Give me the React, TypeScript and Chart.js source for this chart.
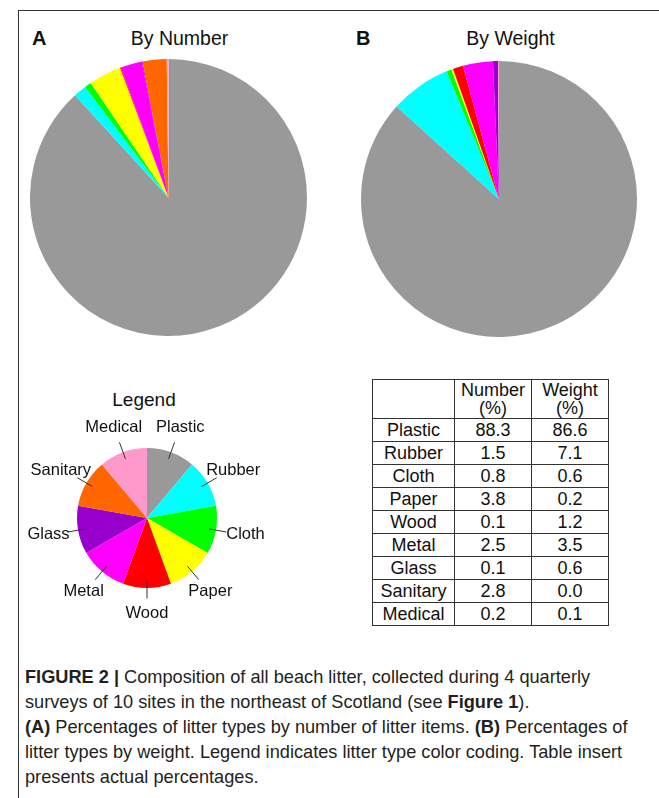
import React, { useEffect, useRef } from "react";
import { Chart, registerables } from "chart.js";

Chart.register(...registerables);

const categories = ["Plastic", "Rubber", "Cloth", "Paper", "Wood", "Metal", "Glass", "Sanitary", "Medical"];
const byNumber = [88.3, 1.5, 0.8, 3.8, 0.1, 2.5, 0.1, 2.8, 0.2];
const byWeight = [86.6, 7.1, 0.6, 0.2, 1.2, 3.5, 0.6, 0.0, 0.1];
const legendShares = [1, 1, 1, 1, 1, 1, 1, 1, 1];
const sliceColors = ["#999999", "#00FFFF", "#00FF00", "#FFFF00", "#FF0000", "#FF00FF", "#9900CC", "#FF6600", "#FF99CC"];

const FONT = "'Liberation Sans', Arial, sans-serif";

const leaderPlugin = {
  id: "leaderLabels",
  afterDatasetsDraw(chart: any) {
    const meta = chart.getDatasetMeta(0);
    const ctx = chart.ctx;
    const labels = chart.data.labels as string[];
    ctx.save();
    meta.data.forEach((arc: any, i: number) => {
      const p = arc.getProps(["x", "y", "startAngle", "endAngle", "outerRadius"], true);
      const mid = (p.startAngle + p.endAngle) / 2;
      const c = Math.cos(mid);
      const s = Math.sin(mid);
      const r = p.outerRadius;
      ctx.strokeStyle = "#333333";
      ctx.lineWidth = 1;
      ctx.beginPath();
      ctx.moveTo(p.x + c * r * 0.9, p.y + s * r * 0.9);
      ctx.lineTo(p.x + c * r * 1.15, p.y + s * r * 1.15);
      ctx.stroke();
      ctx.fillStyle = "#111111";
      ctx.font = `16.5px ${FONT}`;
      ctx.textAlign = "center";
      ctx.textBaseline = "middle";
      const k = 1.37 + Math.abs(c) * 0.06;
      ctx.fillText(labels[i], p.x + c * r * k, p.y + s * r * 1.37);
    });
    ctx.restore();
  },
};

type PieProps = {
  values: number[];
  width: number;
  height: number;
  padX: number;
  padY: number;
  withLabels?: boolean;
  style: React.CSSProperties;
};

function PieChart({ values, width, height, padX, padY, withLabels, style }: PieProps) {
  const ref = useRef<HTMLCanvasElement | null>(null);
  useEffect(() => {
    if (!ref.current) return;
    const chart = new Chart(ref.current, {
      type: "pie",
      data: {
        labels: categories,
        datasets: [
          {
            data: values,
            backgroundColor: sliceColors,
            borderWidth: 0,
          },
        ],
      },
      options: {
        responsive: false,
        animation: false,
        layout: { padding: { left: padX, right: padX, top: padY, bottom: padY } },
        plugins: { legend: { display: false }, tooltip: { enabled: false } },
      },
      plugins: withLabels ? [leaderPlugin] : [],
    });
    return () => chart.destroy();
  }, []);
  return (
    <div style={{ position: "absolute", width, height, ...style }}>
      <canvas ref={ref} width={width} height={height} style={{ width, height }} />
    </div>
  );
}

const textBase: React.CSSProperties = {
  position: "absolute",
  fontFamily: FONT,
  color: "#111",
  whiteSpace: "nowrap",
};

const cell: React.CSSProperties = {
  border: "1px solid #333",
  padding: 0,
  textAlign: "center",
  fontFamily: FONT,
  fontSize: 18,
  color: "#111",
  lineHeight: "18px",
};

export default function App() {
  return (
    <div style={{ position: "absolute", left: 0, top: 0, width: 659, height: 798, background: "#fff", overflow: "hidden" }}>
      <div style={{ position: "absolute", left: 18, top: 10, width: 700, height: 800, borderLeft: "1px solid #333", borderTop: "1px solid #333" }} />

      <div style={{ ...textBase, left: 32, top: 28, fontSize: 20, fontWeight: "bold", lineHeight: "20px" }}>A</div>
      <div style={{ ...textBase, left: 80, width: 199, top: 28, fontSize: 19.5, lineHeight: "20px", textAlign: "center" }}>By Number</div>
      <div style={{ ...textBase, left: 356, top: 28, fontSize: 20, fontWeight: "bold", lineHeight: "20px" }}>B</div>
      <div style={{ ...textBase, left: 411, width: 199, top: 28, fontSize: 19.5, lineHeight: "20px", textAlign: "center" }}>By Weight</div>

      <PieChart values={byNumber} width={277} height={277} padX={0} padY={0} style={{ left: 30, top: 59 }} />
      <PieChart values={byWeight} width={276} height={276} padX={0} padY={0} style={{ left: 361, top: 61 }} />

      <div style={{ ...textBase, left: 44, width: 200, top: 390, fontSize: 19, lineHeight: "20px", textAlign: "center" }}>Legend</div>
      <PieChart values={legendShares} width={260} height={220} padX={60} padY={40} withLabels style={{ left: 17, top: 408 }} />

      <table
        style={{
          position: "absolute",
          left: 372,
          top: 379,
          width: 236,
          borderCollapse: "collapse",
          tableLayout: "fixed",
        }}
      >
        <colgroup>
          <col style={{ width: 82 }} />
          <col style={{ width: 77 }} />
          <col style={{ width: 77 }} />
        </colgroup>
        <tbody>
          <tr style={{ height: 39 }}>
            <td style={cell}></td>
            <td style={cell}>Number<br />(%)</td>
            <td style={cell}>Weight<br />(%)</td>
          </tr>
          {categories.map((c, i) => (
            <tr key={c} style={{ height: 23 }}>
              <td style={cell}>{c}</td>
              <td style={cell}>{byNumber[i].toFixed(1)}</td>
              <td style={cell}>{byWeight[i].toFixed(1)}</td>
            </tr>
          ))}
        </tbody>
      </table>

      <div style={{ ...textBase, left: 25, top: 665, fontSize: 18.2, lineHeight: "25px", color: "#231f20" }}>
        <b>FIGURE 2 |</b> Composition of all beach litter, collected during 4 quarterly<br />
        surveys of 10 sites in the northeast of Scotland (see <b>Figure 1</b>).<br />
        <b>(A)</b> Percentages of litter types by number of litter items. <b>(B)</b> Percentages of<br />
        litter types by weight. Legend indicates litter type color coding. Table insert<br />
        presents actual percentages.
      </div>
    </div>
  );
}
